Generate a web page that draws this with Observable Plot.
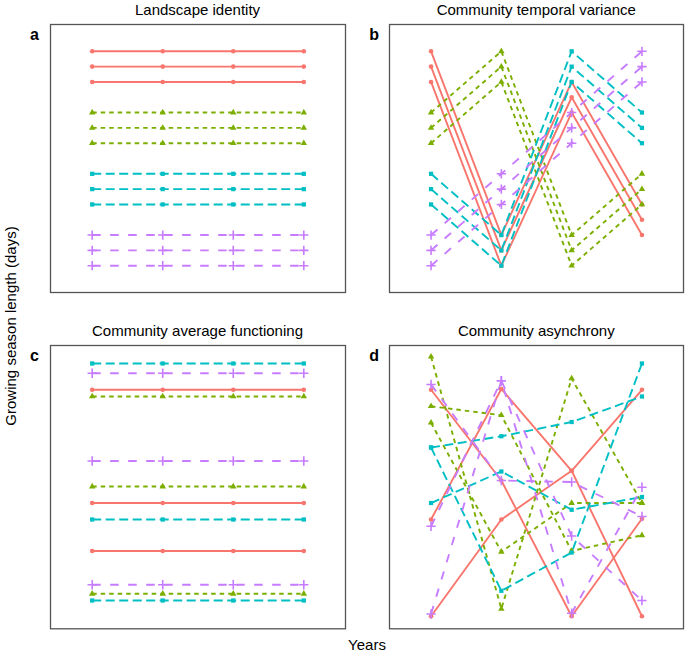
<!DOCTYPE html>
<html>
<head>
<meta charset="utf-8">
<script src="https://cdn.jsdelivr.net/npm/d3@7"></script>
<script src="https://cdn.jsdelivr.net/npm/@observablehq/plot@0.6"></script>
<style>
  body { margin: 0; background: #fff; }
  #root { position: relative; width: 685px; height: 652px; background: #fff; font-family: "Liberation Sans", Arial, sans-serif; color: #000; }
  .t { position: absolute; font-size: 15px; line-height: 15px; white-space: nowrap; }
  .title { transform: translateX(-50%); }
  .letter { font-weight: bold; font-size: 16px; }
  .panel { position: absolute; }
</style>
</head>
<body>
<div id="root"></div>
<script>
// ---------- data ----------
const years = [1, 2, 3, 4];
const communities = ["Community 1", "Community 2", "Community 3", "Community 4"];
const panelTitles = ["Landscape identity", "Community temporal variance", "Community average functioning", "Community asynchrony"];
const panelLetters = ["a", "b", "c", "d"];
const yLabel = "Growing season length (days)";
const xLabel = "Years";

// panel a: Landscape identity (days, one array per line, values for years 1-4)
const aRed    = [[180,180,180,180],[178,178,178,178],[176,176,176,176]];
const aGreen  = [[172,172,172,172],[170,170,170,170],[168,168,168,168]];
const aCyan   = [[164,164,164,164],[162,162,162,162],[160,160,160,160]];
const aPurple = [[156,156,156,156],[154,154,154,154],[152,152,152,152]];

// panel b: Community temporal variance
const bRed    = [[180,156,176,160],[178,154,174,158],[176,152,172,156]];
const bGreen  = [[172,180,156,164],[170,178,154,162],[168,176,152,160]];
const bCyan   = [[164,156,180,172],[162,154,178,170],[160,152,176,168]];
const bPurple = [[156,164,172,180],[154,162,170,178],[152,160,168,176]];

// panel c: Community average functioning
const cRed    = [[179.1,179.1,179.1,179.1],[164.0,164.0,164.0,164.0],[157.6,157.6,157.6,157.6]];
const cGreen  = [[178.2,178.2,178.2,178.2],[166.2,166.2,166.2,166.2],[151.9,151.9,151.9,151.9]];
const cCyan   = [[182.6,182.6,182.6,182.6],[161.8,161.8,161.8,161.8],[151.0,151.0,151.0,151.0]];
const cPurple = [[181.3,181.3,181.3,181.3],[169.6,169.6,169.6,169.6],[153.1,153.1,153.1,153.1]];

// panel d: Community asynchrony
const dRed    = [[148.9,161.8,168.3,179.1],[161.8,179.2,168.3,148.9],[179.1,167.0,148.9,161.9]];
const dGreen  = [[183.5,149.9,180.6,164.0],[176.9,175.7,157.6,159.7],[174.7,157.5,164.0,164.0]];
const dCyan   = [[171.4,172.9,174.8,178.2],[171.4,152.3,157.4,182.6],[164.0,168.2,163.1,164.8]];
const dPurple = [[179.8,167.0,166.8,162.2],[160.9,180.3,159.6,151.0],[149.2,180.3,149.3,166.1]];

const topDomain = [148.5, 183.5];
const bottomDomain = [147.23, 185];

// ---------- styles ----------
const colors = ["#F8766D", "#7CAE00", "#00BFC4", "#C77CFF"];
const dashes = [null, "4.5,4", "9,4.5", "8.5,9.5"];
const symbols = ["circle", "triangle", "square", "plus"];
const symR = [2.3, 2.4, 2.4, 3.1];

const panels = [
  { series: [aRed, aGreen, aCyan, aPurple], domain: topDomain, left: 50, top: 24, w: 295, h: 268 },
  { series: [bRed, bGreen, bCyan, bPurple], domain: topDomain, left: 389.3, top: 24, w: 294, h: 268 },
  { series: [cRed, cGreen, cCyan, cPurple], domain: bottomDomain, left: 50, top: 345, w: 295, h: 283.3 },
  { series: [dRed, dGreen, dCyan, dPurple], domain: bottomDomain, left: 389.3, top: 345, w: 294, h: 283.3 }
];

function rowsFor(lines, k) {
  const rows = [];
  lines.forEach((vals, i) => {
    vals.forEach((v, j) => rows.push({ year: years[j], value: v, line: communities[k] + "-" + (i + 1), community: communities[k] }));
  });
  return rows;
}

const root = document.getElementById("root");

panels.forEach((p, pi) => {
  const perComm = p.series.map((lines, k) => rowsFor(lines, k));
  const marks = [];
  perComm.forEach((rows, k) => {
    const opts = { x: "year", y: "value", z: "line", stroke: colors[k], strokeWidth: 1.9, strokeLinecap: "butt", strokeLinejoin: "round" };
    if (dashes[k]) opts.strokeDasharray = dashes[k];
    marks.push(Plot.line(rows, opts));
  });
  perComm.forEach((rows, k) => {
    if (symbols[k] === "plus") {
      marks.push(Plot.dot(rows, { x: "year", y: "value", symbol: "plus", r: symR[k], stroke: colors[k], strokeWidth: 1.6, fill: "none" }));
    } else {
      marks.push(Plot.dot(rows, { x: "year", y: "value", symbol: symbols[k], r: symR[k], fill: colors[k], stroke: "none" }));
    }
  });
  marks.push(Plot.frame({ stroke: "#555", strokeWidth: 1.3 }));

  const chart = Plot.plot({
    width: p.w + 2,
    height: p.h + 2,
    marginTop: 1, marginBottom: 1, marginLeft: 1, marginRight: 1,
    x: { domain: [0.409, 4.591], axis: null },
    y: { domain: p.domain, axis: null },
    style: { background: "transparent", overflow: "visible" },
    marks
  });
  const wrap = document.createElement("div");
  wrap.className = "panel";
  wrap.style.left = (p.left - 1) + "px";
  wrap.style.top = (p.top - 1) + "px";
  wrap.appendChild(chart);
  root.appendChild(wrap);

  const t = document.createElement("div");
  t.className = "t title";
  t.textContent = panelTitles[pi];
  t.style.left = (p.left + p.w / 2) + "px";
  t.style.top = (p.top - 22) + "px";
  root.appendChild(t);

  const l = document.createElement("div");
  l.className = "t letter";
  l.textContent = panelLetters[pi];
  l.style.left = (p.left - 20) + "px";
  l.style.top = (p.top + 3) + "px";
  root.appendChild(l);
});

const yl = document.createElement("div");
yl.className = "t";
yl.textContent = yLabel;
yl.style.left = "10px";
yl.style.top = "326px";
yl.style.transform = "translate(-50%, -50%) rotate(-90deg)";
root.appendChild(yl);

const xl = document.createElement("div");
xl.className = "t";
xl.textContent = xLabel;
xl.style.left = "367px";
xl.style.top = "637px";
xl.style.transform = "translateX(-50%)";
root.appendChild(xl);
</script>
</body>
</html>
